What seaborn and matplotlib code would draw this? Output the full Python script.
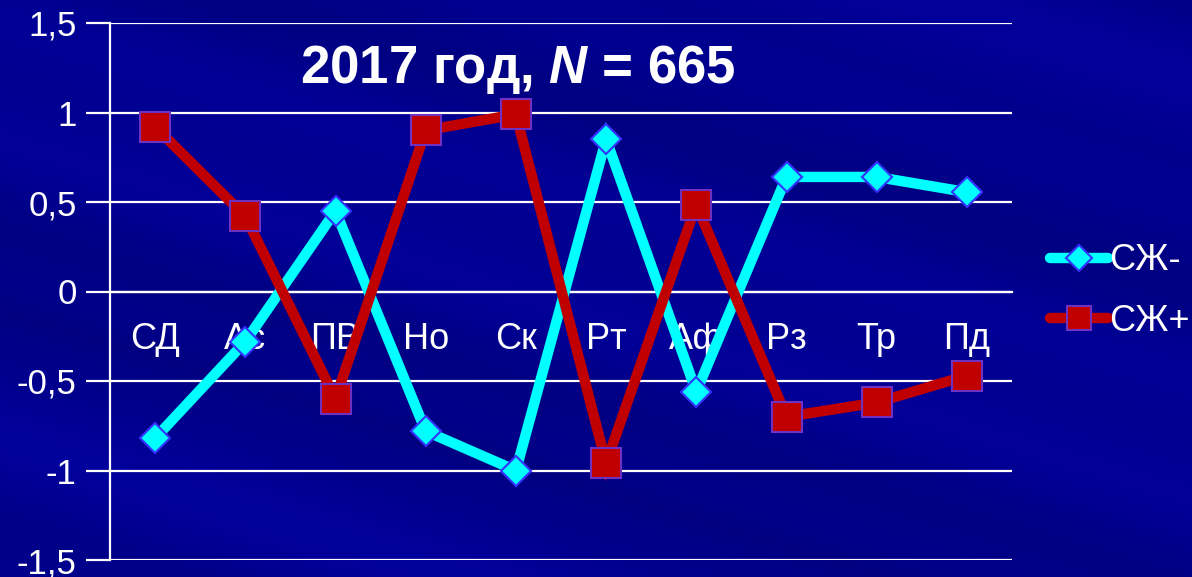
import numpy as np
import pandas as pd
import matplotlib
matplotlib.use("Agg")
import matplotlib.pyplot as plt
import seaborn as sns
from matplotlib.ticker import FixedLocator
from matplotlib.lines import Line2D

# ---- data ----
categories = ["СД", "Ас", "ПВ", "Но", "Ск", "Рт", "Аф", "Рз", "Тр", "Пд"]
sj_minus = [-0.82, -0.28, 0.45, -0.78, -1.00, 0.85, -0.56, 0.64, 0.64, 0.555]
sj_plus = [0.92, 0.42, -0.60, 0.90, 0.99, -0.96, 0.485, -0.70, -0.62, -0.47]
series_names = ["СЖ-", "СЖ+"]
y_ticks = [-1.5, -1.0, -0.5, 0.0, 0.5, 1.0, 1.5]
y_tick_labels = ["-1,5", "-1", "-0,5", "0", "0,5", "1", "1,5"]
title_left = "2017 год, "
title_n = "665"

df = pd.concat([
    pd.DataFrame({"pos": np.arange(len(categories)), "cat": categories,
                  "value": sj_minus, "series": series_names[0]}),
    pd.DataFrame({"pos": np.arange(len(categories)), "cat": categories,
                  "value": sj_plus, "series": series_names[1]}),
])

sns.set_theme(style="white")
plt.rcParams['font.family'] = ['Liberation Sans', 'DejaVu Sans']
plt.rcParams['mathtext.fontset'] = 'custom'
plt.rcParams['mathtext.it'] = 'Liberation Sans:italic:bold'
plt.rcParams['mathtext.rm'] = 'Liberation Sans:bold'

W, H = 1192, 577
fig = plt.figure(figsize=(W / 100, H / 100), dpi=100)

# ---- background (dark blue with diagonal streaks) ----
bg = fig.add_axes([0, 0, 1, 1], zorder=-10)
yy, xx = np.mgrid[0:H, 0:W]
d = yy - 0.30 * xx  # diagonal coordinate
shade = (0.03 * np.sin(d / 55.0) + 0.02 * np.sin(d / 23.0 + 1.3)
         - 0.05 * np.exp(-((d - 310) / 25.0) ** 2))
img = np.zeros((H, W, 3))
img[..., 0] = np.clip(shade * 0.12, 0, 1)
img[..., 1] = np.clip(shade * 0.12, 0, 1)
img[..., 2] = np.clip(0.56 + shade, 0, 1)
bg.imshow(img, aspect='auto', extent=[0, 1, 0, 1], origin='upper')
bg.axis('off')
fig.patch.set_facecolor('#00008C')

# ---- main axes ----
left, right, top, bottom = 110 / W, 1012 / W, 23 / H, 560 / H
ax = fig.add_axes([left, 1 - bottom, right - left, bottom - top])
ax.set_facecolor('none')

palette = {series_names[0]: "#00FFFF", series_names[1]: "#C00000"}
markers = {series_names[0]: "D", series_names[1]: "s"}
sns.lineplot(data=df, x="pos", y="value", hue="series", style="series",
             palette=palette, markers=markers, dashes=False, sort=False,
             linewidth=7.5, ax=ax, legend=False, zorder=3)

for line, name in zip(ax.lines, series_names):
    if name == series_names[0]:
        line.set_markersize(15)
        line.set_markeredgecolor('#3333FF')
    else:
        line.set_markersize(22)
        line.set_markeredgecolor('#7030C0')
    line.set_markeredgewidth(1.5)
    line.set_solid_joinstyle('miter')

ax.set_xlim(-0.5, len(categories) - 0.5)
ax.set_ylim(y_ticks[0], y_ticks[-1])
ax.set_yticks(y_ticks)
ax.set_yticklabels(y_tick_labels)
ax.yaxis.grid(True, color='white', linewidth=1.6)
ax.xaxis.grid(False)
ax.set_axisbelow(True)

ax.set_xticks(np.arange(len(categories)))
ax.set_xticklabels(categories)
ax.xaxis.set_minor_locator(FixedLocator(np.arange(len(categories) + 1) - 0.5))
ax.tick_params(axis='x', which='major', length=0, pad=22, labelsize=26,
               colors='white')
ax.tick_params(axis='x', which='minor', length=8, width=1.6, color='white',
               direction='out')
ax.tick_params(axis='y', length=17, width=1.6, color='white', pad=7,
               labelsize=25, labelcolor='white', left=True)
ax.set_xlabel("")
ax.set_ylabel("")

for s in ['top', 'right']:
    ax.spines[s].set_visible(False)
ax.spines['left'].set_color('white')
ax.spines['left'].set_linewidth(1.6)
ax.spines['bottom'].set_color('white')
ax.spines['bottom'].set_linewidth(1.6)
ax.spines['bottom'].set_position(('data', 0))

# title
ax.text(0.452, 0.913, title_left + r"$N$" + " = " + title_n,
        transform=ax.transAxes, ha='center', va='center', color='white',
        fontsize=38, fontweight='bold', zorder=5)

# legend
handles = []
for name in series_names:
    if name == series_names[0]:
        h = Line2D([], [], color=palette[name], lw=7.5, marker='D', markersize=13,
                   markerfacecolor=palette[name], markeredgecolor='#3333FF',
                   markeredgewidth=1.5, solid_capstyle='round')
    else:
        h = Line2D([], [], color=palette[name], lw=7.5, marker='s', markersize=17,
                   markerfacecolor=palette[name], markeredgecolor='#7030C0',
                   markeredgewidth=1.5, solid_capstyle='round')
    handles.append(h)
leg = fig.legend(handles, series_names, loc='center left',
                 bbox_to_anchor=(1050 / W, 1 - 291 / H), frameon=False,
                 fontsize=26, handlelength=1.6, handletextpad=0.05,
                 labelspacing=0.7, borderaxespad=0, borderpad=0)
for t in leg.get_texts():
    t.set_color('white')

fig.savefig("out.png", dpi=100, facecolor=fig.get_facecolor())
